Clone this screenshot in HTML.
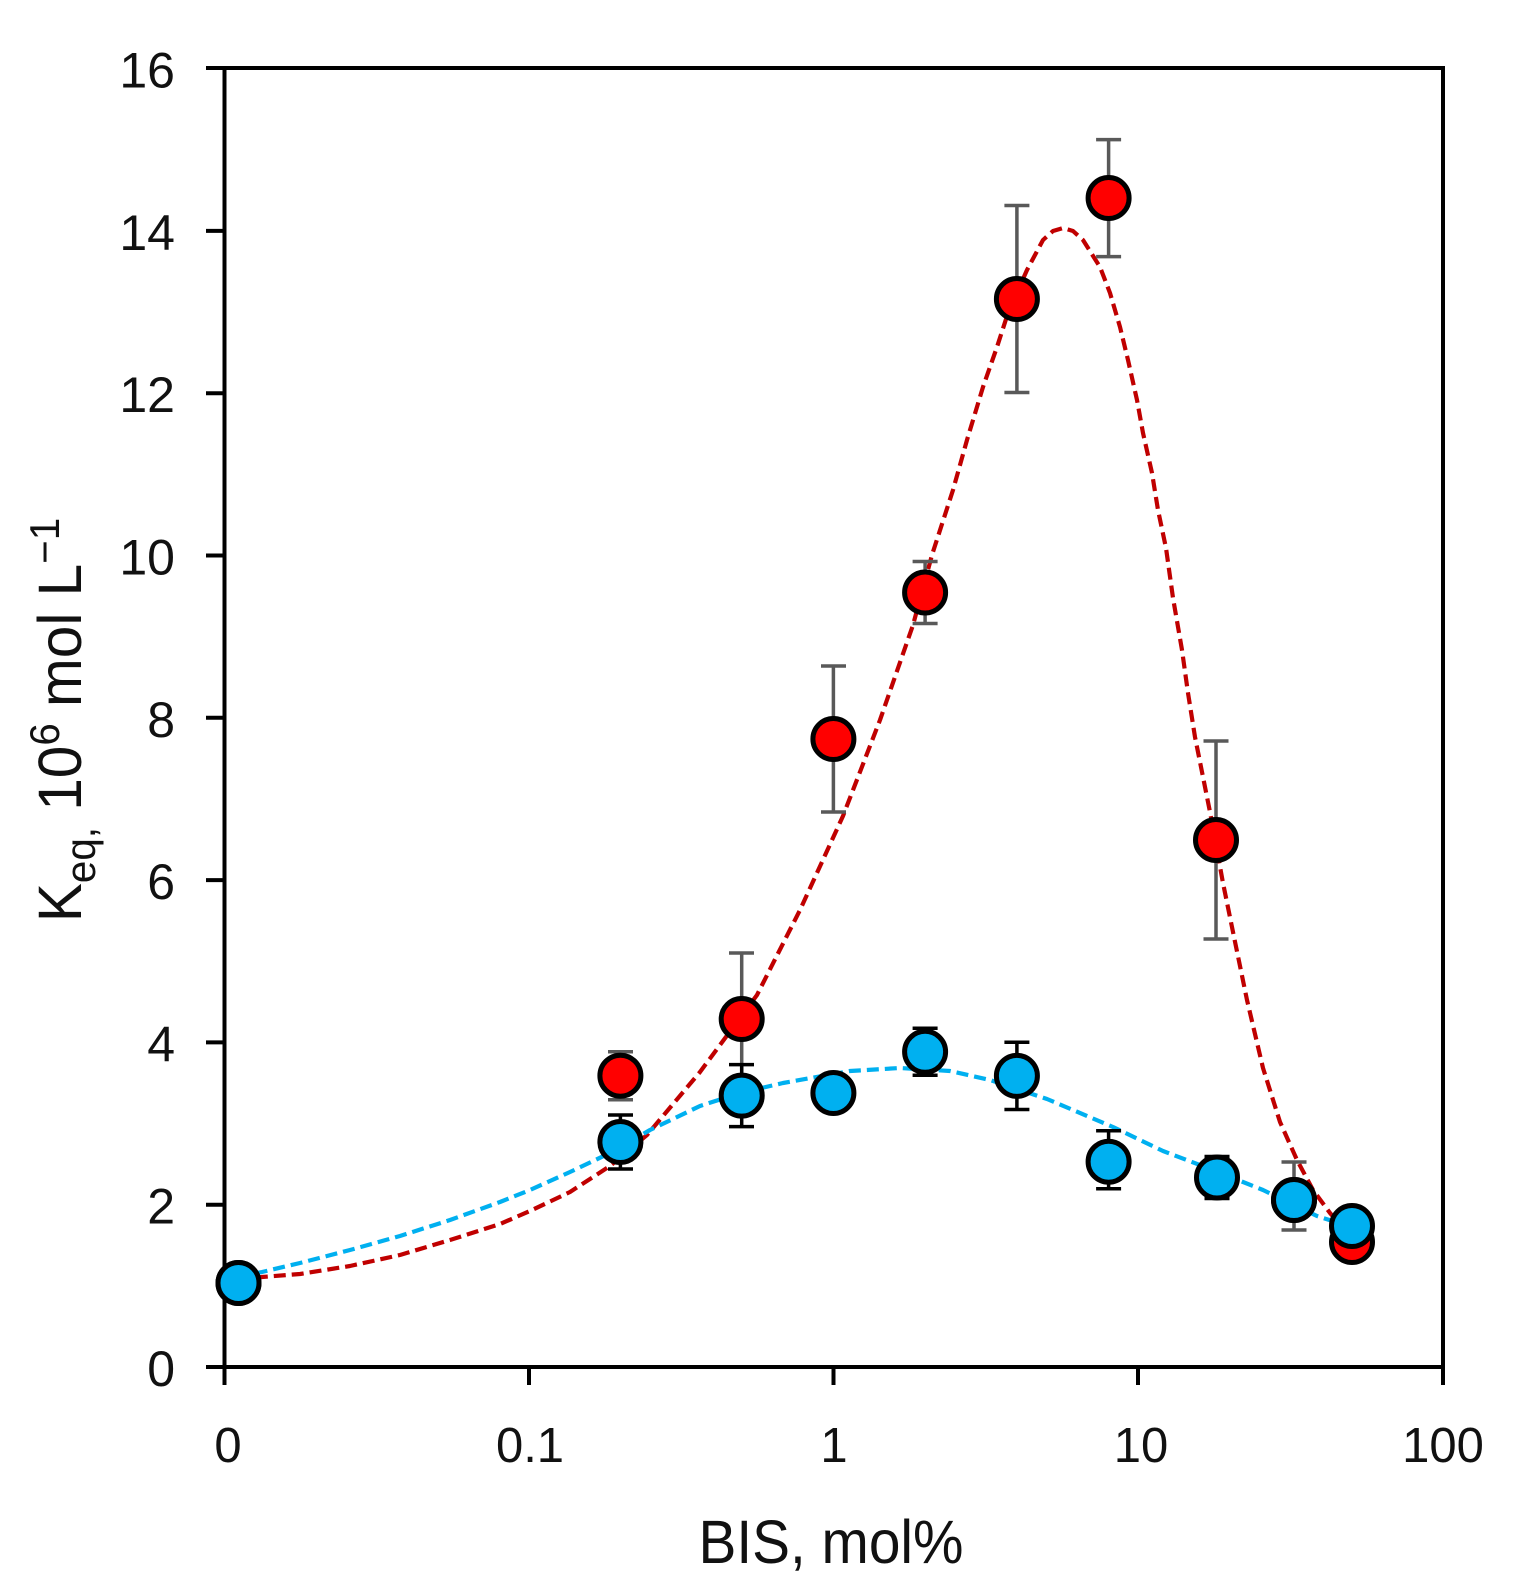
<!DOCTYPE html>
<html>
<head>
<meta charset="utf-8">
<style>
html,body{margin:0;padding:0;background:#fff;}
svg{display:block;}
text{font-family:"Liberation Sans", Arial, sans-serif;fill:#111;}
</style>
</head>
<body>
<svg width="1525" height="1591" viewBox="0 0 1525 1591" xmlns="http://www.w3.org/2000/svg">
<rect width="1525" height="1591" fill="#fff"/>

<!-- axes frame -->
<g stroke="#000" stroke-width="4" fill="none" stroke-linecap="square">
  <line x1="224.5" y1="68" x2="224.5" y2="1383"/>
  <line x1="208" y1="1367" x2="1443" y2="1367"/>
  <line x1="208" y1="68" x2="1443" y2="68"/>
  <line x1="1443" y1="68" x2="1443" y2="1383"/>
  <!-- y ticks -->
  <line x1="208" y1="1204.7" x2="224.5" y2="1204.7"/>
  <line x1="208" y1="1042.4" x2="224.5" y2="1042.4"/>
  <line x1="208" y1="880.1" x2="224.5" y2="880.1"/>
  <line x1="208" y1="717.8" x2="224.5" y2="717.8"/>
  <line x1="208" y1="555.5" x2="224.5" y2="555.5"/>
  <line x1="208" y1="393.2" x2="224.5" y2="393.2"/>
  <line x1="208" y1="230.9" x2="224.5" y2="230.9"/>
  <!-- x ticks -->
  <line x1="529" y1="1367" x2="529" y2="1383"/>
  <line x1="833.5" y1="1367" x2="833.5" y2="1383"/>
  <line x1="1138" y1="1367" x2="1138" y2="1383"/>
</g>

<!-- y tick labels -->
<g font-size="50" text-anchor="end">
  <text x="175" y="1386">0</text>
  <text x="175" y="1223.7">2</text>
  <text x="175" y="1061.4">4</text>
  <text x="175" y="899.1">6</text>
  <text x="175" y="736.8">8</text>
  <text x="175" y="574.5">10</text>
  <text x="175" y="412.2">12</text>
  <text x="175" y="249.9">14</text>
  <text x="175" y="87.6">16</text>
</g>

<!-- x tick labels -->
<g font-size="49" text-anchor="middle">
  <text x="228" y="1462">0</text>
  <text x="530" y="1462">0.1</text>
  <text x="834" y="1462">1</text>
  <text x="1141" y="1462">10</text>
  <text x="1443" y="1462">100</text>
</g>

<!-- axis titles -->
<text x="831" y="1563" font-size="61" text-anchor="middle" textLength="265" lengthAdjust="spacingAndGlyphs">BIS, mol%</text>

<g transform="translate(81,720) rotate(-90) scale(0.96,1)">
  <text x="0" y="0" font-size="61" text-anchor="middle">K<tspan font-size="42" dy="14">eq,</tspan><tspan dy="-14"> 10</tspan><tspan font-size="42" dy="-22">6</tspan><tspan dy="22"> mol L</tspan><tspan font-size="42" dy="-22">−1</tspan></text>
</g>

<!-- fit curves -->
<polyline fill="none" stroke="#C00000" stroke-width="4.2" stroke-dasharray="12 6" stroke-linejoin="round"
points="238,1280 262,1277 300,1274 350,1266 400,1255 450,1240 500,1224 530,1211 570,1192 610,1166 647,1135 700,1072 757,995 800,910 843,816 880,720 913,625 932,555 953,490 967,440 983,387 997,347 1008,313 1027,270 1043,240 1053,231 1063,228 1073,231 1083,240 1100,267 1110,293 1120,327 1128,360 1137,400 1143,433 1152,473 1158,510 1166,548 1173,598 1182,650 1188,693 1195,737 1202,772 1210,812 1223,883 1233,932 1247,1000 1263,1068 1280,1122 1297,1160 1313,1190 1330,1213 1350,1236"/>
<polyline fill="none" stroke="#00B0F0" stroke-width="4.2" stroke-dasharray="12 6" stroke-linejoin="round"
points="238,1277 262,1272 300,1263 350,1250 400,1236 450,1220 500,1202 530,1190 570,1172 610,1153 650,1130 700,1106 740,1093 783,1083 850,1071 900,1068 950,1071 990,1080 1047,1099 1113,1127 1163,1151 1213,1170 1263,1190 1317,1216 1345,1225"/>

<!-- red error bars (gray) -->
<g stroke="#595959" stroke-width="3.5" fill="none">
  <path d="M620.4,1051.7V1099.7M608,1051.7H633M608,1099.7H633"/>
  <path d="M741.7,953V1085M729,953H754M729,1085H754"/>
  <path d="M833.4,666V812M821,666H846M821,812H846"/>
  <path d="M925.1,561.5V623.5M912.6,561.5H937.6M912.6,623.5H937.6"/>
  <path d="M1016.9,205.5V392.5M1004.4,205.5H1029.4M1004.4,392.5H1029.4"/>
  <path d="M1108.6,139.6V256.6M1096.1,139.6H1121.1M1096.1,256.6H1121.1"/>
  <path d="M1216,741V939M1203.5,741H1228.5M1203.5,939H1228.5"/>
  <path d="M1294,1162V1230M1281.5,1162H1306.5M1281.5,1230H1306.5"/>
</g>

<!-- red markers -->
<g fill="#FF0000" stroke="#000" stroke-width="5">
  <circle cx="238.5" cy="1283" r="20.5"/>
  <circle cx="620.4" cy="1075.7" r="20.5"/>
  <circle cx="741.7" cy="1019" r="20.5"/>
  <circle cx="833.4" cy="739" r="20.5"/>
  <circle cx="925.1" cy="592.5" r="20.5"/>
  <circle cx="1016.9" cy="299" r="20.5"/>
  <circle cx="1108.6" cy="198" r="20.5"/>
  <circle cx="1216" cy="840" r="20.5"/>
  <circle cx="1294" cy="1200" r="20.5"/>
  <circle cx="1352" cy="1242" r="20.5"/>
</g>

<!-- blue error bars (black) -->
<g stroke="#000" stroke-width="3.5" fill="none">
  <path d="M620.4,1115V1169M608,1115H633M608,1169H633"/>
  <path d="M741.7,1064.6V1126.6M729,1064.6H754M729,1126.6H754"/>
  <path d="M925.1,1028.3V1075.3M912.6,1028.3H937.6M912.6,1075.3H937.6"/>
  <path d="M1016.9,1042.3V1109.5M1004.4,1042.3H1029.4M1004.4,1109.5H1029.4"/>
  <path d="M1108.6,1130.7V1188.7M1096.1,1130.7H1121.1M1096.1,1188.7H1121.1"/>
  <path d="M1217,1156.5V1198.5M1204.5,1156.5H1229.5M1204.5,1198.5H1229.5"/>
</g>

<!-- blue markers -->
<g fill="#00B0F0" stroke="#000" stroke-width="5">
  <circle cx="238.5" cy="1283" r="20.5"/>
  <circle cx="620.4" cy="1142" r="20.5"/>
  <circle cx="741.7" cy="1095.6" r="20.5"/>
  <circle cx="833.4" cy="1093" r="20.5"/>
  <circle cx="925.1" cy="1051.8" r="20.5"/>
  <circle cx="1016.9" cy="1075.9" r="20.5"/>
  <circle cx="1108.6" cy="1161.7" r="20.5"/>
  <circle cx="1217" cy="1177.5" r="20.5"/>
  <circle cx="1294" cy="1200" r="20.5"/>
  <circle cx="1352" cy="1226" r="20.5"/>
</g>
</svg>
</body>
</html>
